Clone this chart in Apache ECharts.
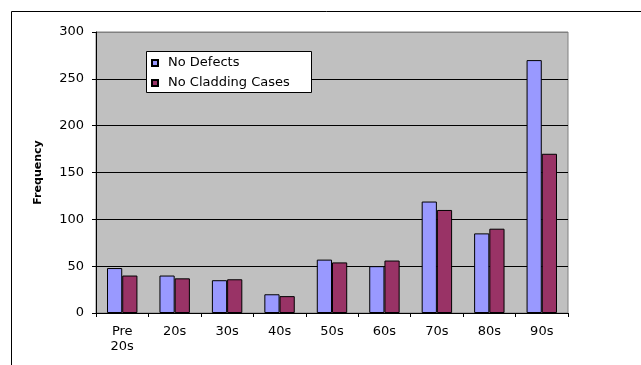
<!DOCTYPE html>
<html>
<head>
<meta charset="utf-8">
<title>Frequency by decade</title>
<script src="https://cdn.jsdelivr.net/npm/echarts@6/dist/echarts.min.js"></script>
<style>
  html, body { margin: 0; padding: 0; background: #ffffff; }
  #chart { width: 641px; height: 365px; }
</style>
</head>
<body>
<div id="chart"></div>
<script>
// Decades of construction
const categories = ['Pre\n20s', '20s', '30s', '40s', '50s', '60s', '70s', '80s', '90s'];

// Frequency of cases per decade
const noDefects = [48, 40, 35, 20, 57, 50, 119, 85, 270];
const noCladdingCases = [40, 37, 36, 18, 54, 56, 110, 90, 170];

// Value axis ticks
const yTicks = [0, 50, 100, 150, 200, 250, 300];

const FONT = 'DejaVu Sans';

// gridlines are black, except the top one which is part of the grey plot frame
const gridLineColors = yTicks.map((v, i) => (i === yTicks.length - 1 ? '#808080' : '#000000'));

const chart = echarts.init(document.getElementById('chart'), null, { renderer: 'canvas' });

chart.setOption({
  backgroundColor: '#ffffff',
  animation: false,
  graphic: [
    {
      // outer chart frame
      type: 'rect',
      z: 0,
      silent: true,
      shape: { x: 11.5, y: 11.5, width: 800, height: 500 },
      style: { fill: 'none', stroke: '#000000', lineWidth: 1 }
    },
    {
      // legend box
      type: 'rect',
      z: 3,
      silent: true,
      shape: { x: 146.5, y: 51.5, width: 165, height: 41 },
      style: { fill: '#ffffff', stroke: '#000000', lineWidth: 1 }
    }
  ],
  grid: {
    left: 96,
    top: 32,
    right: 73,
    bottom: 52,
    show: true,
    backgroundColor: '#C0C0C0',
    borderColor: '#808080',
    borderWidth: 1
  },
  legend: {
    orient: 'vertical',
    left: 151,
    top: 56,
    padding: 0,
    itemWidth: 6,
    itemHeight: 6,
    itemGap: 6,
    icon: 'rect',
    z: 4,
    textStyle: {
      fontFamily: FONT,
      fontSize: 13,
      color: '#000000',
      lineHeight: 14,
      padding: [0, 0, 0, 5]
    },
    data: ['No Defects', 'No Cladding Cases']
  },
  xAxis: {
    type: 'category',
    data: categories,
    axisLine: { show: true, lineStyle: { color: '#000000', width: 1 } },
    axisTick: { show: true, length: 4, lineStyle: { color: '#000000' } },
    axisLabel: {
      fontFamily: FONT,
      fontSize: 13,
      color: '#000000',
      margin: 11,
      lineHeight: 15
    }
  },
  yAxis: {
    type: 'value',
    min: yTicks[0],
    max: yTicks[yTicks.length - 1],
    interval: yTicks[1] - yTicks[0],
    name: 'Frequency',
    nameLocation: 'middle',
    nameRotate: 90,
    nameGap: 52,
    nameTextStyle: {
      fontFamily: FONT,
      fontSize: 11,
      fontWeight: 'bold',
      color: '#000000'
    },
    axisLine: { show: true, lineStyle: { color: '#000000', width: 1 } },
    axisTick: { show: true, length: 4, lineStyle: { color: '#000000' } },
    axisLabel: {
      fontFamily: FONT,
      fontSize: 13,
      color: '#000000',
      margin: 12
    },
    splitLine: { show: true, lineStyle: { color: gridLineColors, width: 1 } }
  },
  series: [
    {
      name: 'No Defects',
      type: 'bar',
      data: noDefects,
      barGap: '0%',
      barCategoryGap: '42%',
      itemStyle: { color: '#9999FF', borderColor: '#000000', borderWidth: 1 }
    },
    {
      name: 'No Cladding Cases',
      type: 'bar',
      data: noCladdingCases,
      barGap: '0%',
      barCategoryGap: '42%',
      itemStyle: { color: '#993366', borderColor: '#000000', borderWidth: 1 }
    }
  ]
});
</script>
</body>
</html>
